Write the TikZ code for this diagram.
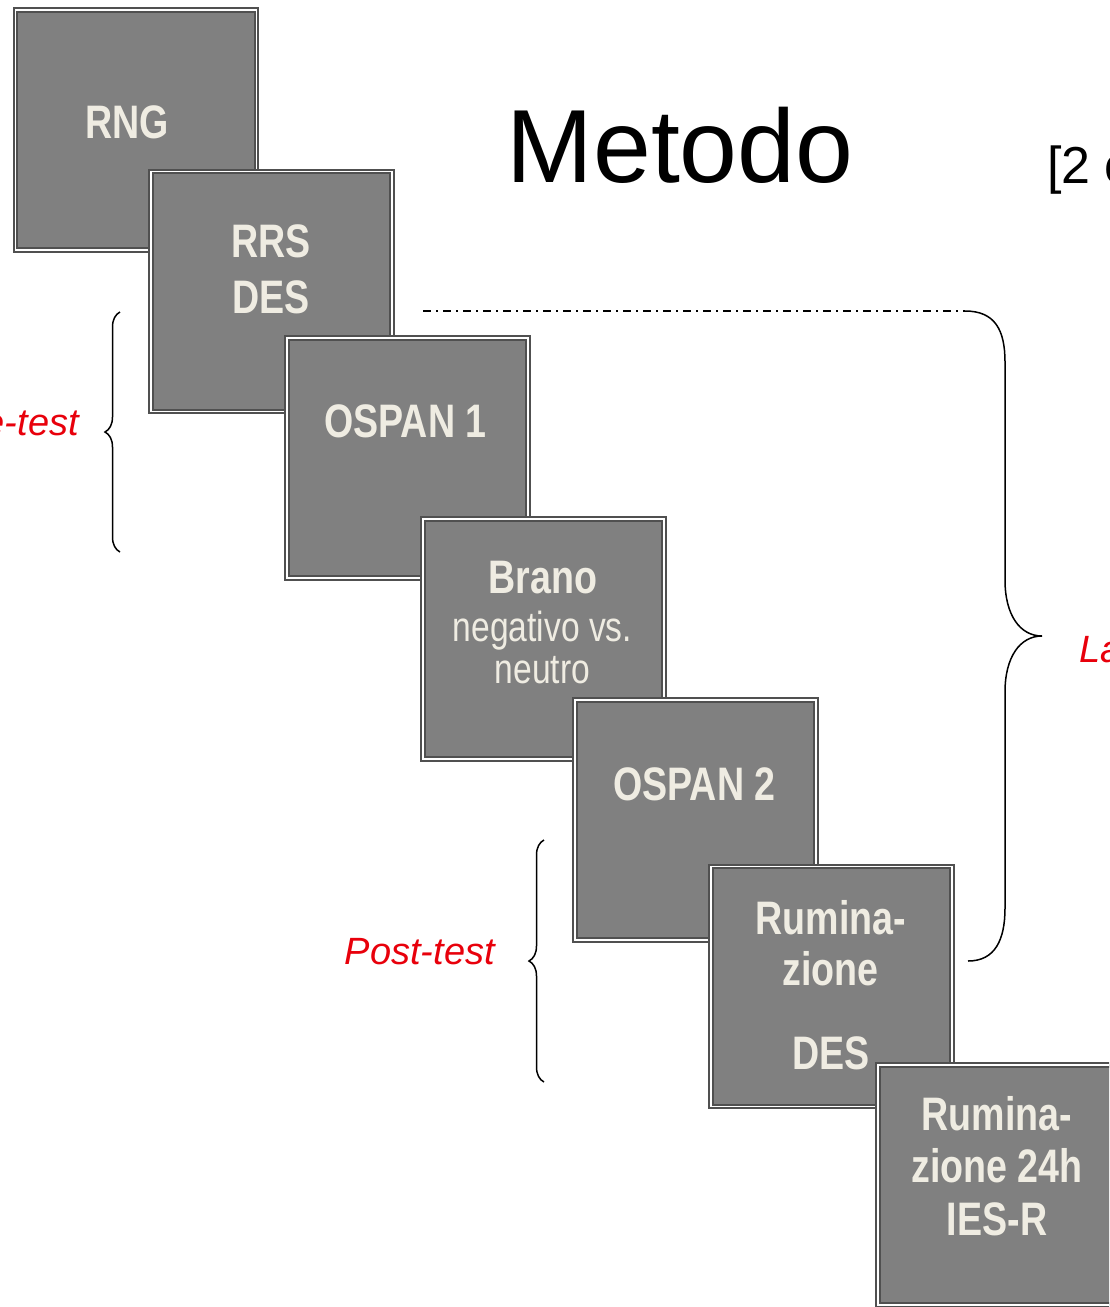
\documentclass[tikz,border=0pt]{standalone}
\usepackage{fontspec}
\setmainfont{Liberation Sans}
\newfontfamily\stagefont[FakeStretch=0.8]{Liberation Sans}
\usetikzlibrary{decorations.pathreplacing}
\definecolor{stagefill}{HTML}{808080}
\definecolor{stageline}{HTML}{505050}
\definecolor{stagetext}{HTML}{EFECE2}
\definecolor{phasered}{HTML}{E8000B}

\begin{document}
\begin{tikzpicture}[x=1pt, y=-1pt,
    stage/.style={draw=stageline, line width=2pt, double=white, double distance=1.6pt,
        fill=stagefill, minimum width=241pt, minimum height=240pt, inner sep=0pt},
    bigtext/.style={text=stagetext, font=\stagefont\bfseries\fontsize{47}{56}\selectfont,
        anchor=base, inner sep=0pt},
    smalltext/.style={text=stagetext, font=\stagefont\fontsize{42}{50}\selectfont,
        anchor=base, inner sep=0pt},
    phase/.style={text=phasered, font=\itshape\fontsize{38}{46}\selectfont, inner sep=0pt},
    bracket/.style={black, line width=1.5pt}]

    % Page frame
    \clip (0,0) rectangle (1109,1307);

    % Title
    \node[font=\fontsize{104}{120}\selectfont, anchor=base, inner sep=0pt] (title) at (680,182) {Metodo};
    \node[font=\fontsize{52}{60}\selectfont, anchor=base west, inner sep=0pt] (cond) at (1047,183) {[2 condizioni]};

    % Stages, each one drawn over the previous
    \node[stage] (s1) at (136,130) {};
    \node[bigtext] (s1a) at (127,138) {RNG};

    \node[stage] (s2) at (271.5,291.5) {};
    \node[bigtext] (s2a) at (271,257) {RRS};
    \node[bigtext] (s2b) at (271,313) {DES};

    \node[stage] (s3) at (407.5,458) {};
    \node[bigtext] (s3a) at (405.5,437) {OSPAN 1};

    \node[stage] (s4) at (543.5,639) {};
    \node[bigtext] (s4a) at (543,593) {Brano};
    \node[smalltext] (s4b) at (542.5,641) {negativo vs.};
    \node[smalltext] (s4c) at (542.5,683) {neutro};

    \node[stage] (s5) at (695.5,820) {};
    \node[bigtext] (s5a) at (694.5,800) {OSPAN 2};

    \node[stage] (s6) at (831.5,986.5) {};
    \node[bigtext] (s6a) at (831,934) {Rumina-};
    \node[bigtext] (s6b) at (830.5,985) {zione};
    \node[bigtext] (s6c) at (831,1069) {DES};

    \node[stage] (s7) at (998.5,1185) {};
    \node[bigtext] (s7a) at (997,1130) {Rumina-};
    \node[bigtext] (s7b) at (997,1182) {zione 24h};
    \node[bigtext] (s7c) at (997,1235) {IES-R};

    % Phase labels
    \node[phase, anchor=base east] (pre) at (79,435) {Pre-test};
    \node[phase, anchor=base east] (post) at (495,964) {Post-test};
    \node[phase, anchor=base west] (lat) at (1079,662) {Latenza};

    % Braces
    \coordinate (preTop) at (120,312);
    \coordinate (preBot) at (120,552);
    \coordinate (postTop) at (544,840);
    \coordinate (postBot) at (544,1082);
    \coordinate (latStart) at (423,311);
    \coordinate (latTop) at (965,311);
    \coordinate (latTip) at (1042,636);
    \coordinate (latEnd) at (968,961);

    \draw[bracket, decorate, decoration={brace, amplitude=15pt}] (preBot) -- (preTop);
    \draw[bracket, decorate, decoration={brace, amplitude=15pt}] (postBot) -- (postTop);

    \draw[bracket, line width=1.3pt, dash pattern=on 8pt off 5pt on 2pt off 5pt] (latStart) -- (latTop);
    \draw[bracket] (latTop) .. controls (995,311) and (1005,330) .. (1005,362)
        -- (1005,580) .. controls (1005,615) and (1020,636) .. (latTip)
        .. controls (1020,636) and (1005,657) .. (1005,692)
        -- (1005,908) .. controls (1005,940) and (995,961) .. (latEnd);
\end{tikzpicture}
\end{document}
